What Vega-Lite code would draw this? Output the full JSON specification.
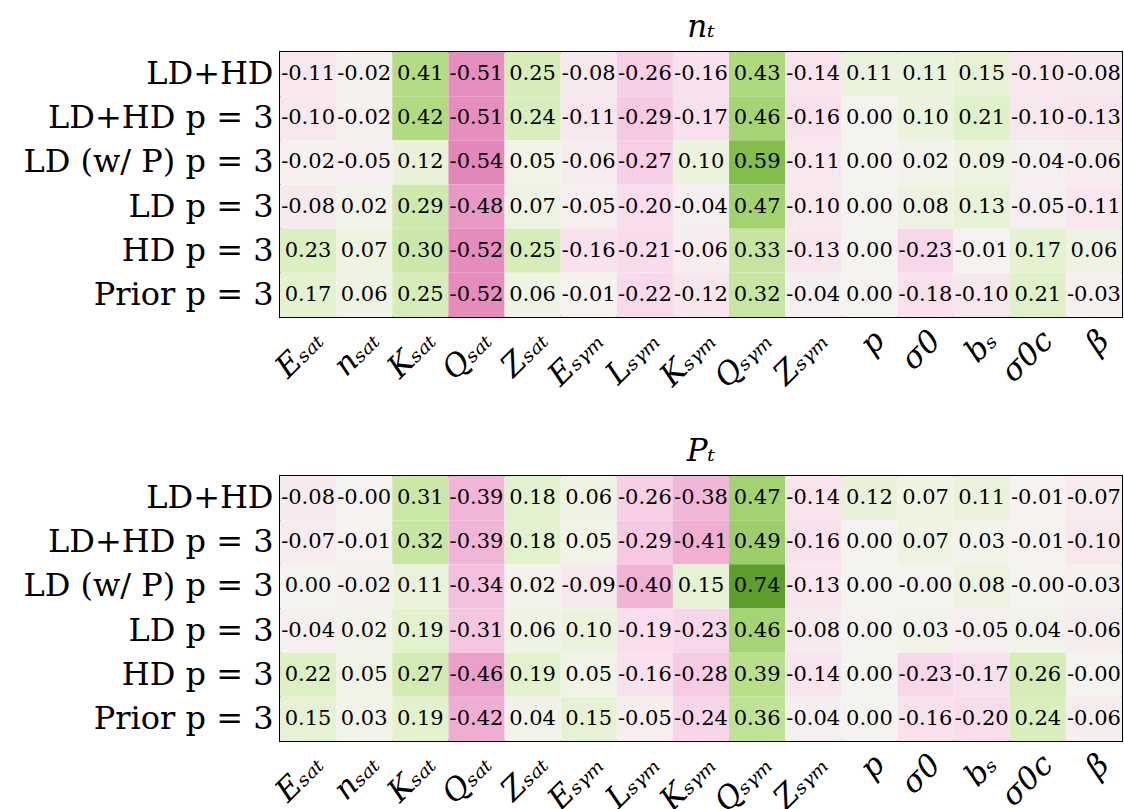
{
  "background": "white",
  "padding": {"left": 21, "top": 11, "right": 5, "bottom": 0},
  "spacing": 40,
  "config": {
    "view": {"stroke": "black", "strokeWidth": 2},
    "font": "DejaVu Serif",
    "axis": {"ticks": false, "domain": false, "grid": false}
  },
  "vconcat": [
    {
      "width": 842, "height": 265,
      "title": {"text": "n\u209c", "fontSize": 31, "font": "DejaVu Serif", "fontStyle": "italic", "fontWeight": "normal", "offset": 8},
      "data": {"values": [
      {"r":"LD+HD","c":"Esat","v":-0.11,"t":"-0.11"},{"r":"LD+HD","c":"nsat","v":-0.02,"t":"-0.02"},{"r":"LD+HD","c":"Ksat","v":0.41,"t":"0.41"},{"r":"LD+HD","c":"Qsat","v":-0.51,"t":"-0.51"},{"r":"LD+HD","c":"Zsat","v":0.25,"t":"0.25"},{"r":"LD+HD","c":"Esym","v":-0.08,"t":"-0.08"},{"r":"LD+HD","c":"Lsym","v":-0.26,"t":"-0.26"},{"r":"LD+HD","c":"Ksym","v":-0.16,"t":"-0.16"},{"r":"LD+HD","c":"Qsym","v":0.43,"t":"0.43"},{"r":"LD+HD","c":"Zsym","v":-0.14,"t":"-0.14"},{"r":"LD+HD","c":"p","v":0.11,"t":"0.11"},{"r":"LD+HD","c":"s0","v":0.11,"t":"0.11"},{"r":"LD+HD","c":"bs","v":0.15,"t":"0.15"},{"r":"LD+HD","c":"s0c","v":-0.10,"t":"-0.10"},{"r":"LD+HD","c":"beta","v":-0.08,"t":"-0.08"},
      {"r":"LD+HD p = 3","c":"Esat","v":-0.10,"t":"-0.10"},{"r":"LD+HD p = 3","c":"nsat","v":-0.02,"t":"-0.02"},{"r":"LD+HD p = 3","c":"Ksat","v":0.42,"t":"0.42"},{"r":"LD+HD p = 3","c":"Qsat","v":-0.51,"t":"-0.51"},{"r":"LD+HD p = 3","c":"Zsat","v":0.24,"t":"0.24"},{"r":"LD+HD p = 3","c":"Esym","v":-0.11,"t":"-0.11"},{"r":"LD+HD p = 3","c":"Lsym","v":-0.29,"t":"-0.29"},{"r":"LD+HD p = 3","c":"Ksym","v":-0.17,"t":"-0.17"},{"r":"LD+HD p = 3","c":"Qsym","v":0.46,"t":"0.46"},{"r":"LD+HD p = 3","c":"Zsym","v":-0.16,"t":"-0.16"},{"r":"LD+HD p = 3","c":"p","v":0.00,"t":"0.00"},{"r":"LD+HD p = 3","c":"s0","v":0.10,"t":"0.10"},{"r":"LD+HD p = 3","c":"bs","v":0.21,"t":"0.21"},{"r":"LD+HD p = 3","c":"s0c","v":-0.10,"t":"-0.10"},{"r":"LD+HD p = 3","c":"beta","v":-0.13,"t":"-0.13"},
      {"r":"LD (w/ P) p = 3","c":"Esat","v":-0.02,"t":"-0.02"},{"r":"LD (w/ P) p = 3","c":"nsat","v":-0.05,"t":"-0.05"},{"r":"LD (w/ P) p = 3","c":"Ksat","v":0.12,"t":"0.12"},{"r":"LD (w/ P) p = 3","c":"Qsat","v":-0.54,"t":"-0.54"},{"r":"LD (w/ P) p = 3","c":"Zsat","v":0.05,"t":"0.05"},{"r":"LD (w/ P) p = 3","c":"Esym","v":-0.06,"t":"-0.06"},{"r":"LD (w/ P) p = 3","c":"Lsym","v":-0.27,"t":"-0.27"},{"r":"LD (w/ P) p = 3","c":"Ksym","v":0.10,"t":"0.10"},{"r":"LD (w/ P) p = 3","c":"Qsym","v":0.59,"t":"0.59"},{"r":"LD (w/ P) p = 3","c":"Zsym","v":-0.11,"t":"-0.11"},{"r":"LD (w/ P) p = 3","c":"p","v":0.00,"t":"0.00"},{"r":"LD (w/ P) p = 3","c":"s0","v":0.02,"t":"0.02"},{"r":"LD (w/ P) p = 3","c":"bs","v":0.09,"t":"0.09"},{"r":"LD (w/ P) p = 3","c":"s0c","v":-0.04,"t":"-0.04"},{"r":"LD (w/ P) p = 3","c":"beta","v":-0.06,"t":"-0.06"},
      {"r":"LD p = 3","c":"Esat","v":-0.08,"t":"-0.08"},{"r":"LD p = 3","c":"nsat","v":0.02,"t":"0.02"},{"r":"LD p = 3","c":"Ksat","v":0.29,"t":"0.29"},{"r":"LD p = 3","c":"Qsat","v":-0.48,"t":"-0.48"},{"r":"LD p = 3","c":"Zsat","v":0.07,"t":"0.07"},{"r":"LD p = 3","c":"Esym","v":-0.05,"t":"-0.05"},{"r":"LD p = 3","c":"Lsym","v":-0.20,"t":"-0.20"},{"r":"LD p = 3","c":"Ksym","v":-0.04,"t":"-0.04"},{"r":"LD p = 3","c":"Qsym","v":0.47,"t":"0.47"},{"r":"LD p = 3","c":"Zsym","v":-0.10,"t":"-0.10"},{"r":"LD p = 3","c":"p","v":0.00,"t":"0.00"},{"r":"LD p = 3","c":"s0","v":0.08,"t":"0.08"},{"r":"LD p = 3","c":"bs","v":0.13,"t":"0.13"},{"r":"LD p = 3","c":"s0c","v":-0.05,"t":"-0.05"},{"r":"LD p = 3","c":"beta","v":-0.11,"t":"-0.11"},
      {"r":"HD p = 3","c":"Esat","v":0.23,"t":"0.23"},{"r":"HD p = 3","c":"nsat","v":0.07,"t":"0.07"},{"r":"HD p = 3","c":"Ksat","v":0.30,"t":"0.30"},{"r":"HD p = 3","c":"Qsat","v":-0.52,"t":"-0.52"},{"r":"HD p = 3","c":"Zsat","v":0.25,"t":"0.25"},{"r":"HD p = 3","c":"Esym","v":-0.16,"t":"-0.16"},{"r":"HD p = 3","c":"Lsym","v":-0.21,"t":"-0.21"},{"r":"HD p = 3","c":"Ksym","v":-0.06,"t":"-0.06"},{"r":"HD p = 3","c":"Qsym","v":0.33,"t":"0.33"},{"r":"HD p = 3","c":"Zsym","v":-0.13,"t":"-0.13"},{"r":"HD p = 3","c":"p","v":0.00,"t":"0.00"},{"r":"HD p = 3","c":"s0","v":-0.23,"t":"-0.23"},{"r":"HD p = 3","c":"bs","v":-0.01,"t":"-0.01"},{"r":"HD p = 3","c":"s0c","v":0.17,"t":"0.17"},{"r":"HD p = 3","c":"beta","v":0.06,"t":"0.06"},
      {"r":"Prior p = 3","c":"Esat","v":0.17,"t":"0.17"},{"r":"Prior p = 3","c":"nsat","v":0.06,"t":"0.06"},{"r":"Prior p = 3","c":"Ksat","v":0.25,"t":"0.25"},{"r":"Prior p = 3","c":"Qsat","v":-0.52,"t":"-0.52"},{"r":"Prior p = 3","c":"Zsat","v":0.06,"t":"0.06"},{"r":"Prior p = 3","c":"Esym","v":-0.01,"t":"-0.01"},{"r":"Prior p = 3","c":"Lsym","v":-0.22,"t":"-0.22"},{"r":"Prior p = 3","c":"Ksym","v":-0.12,"t":"-0.12"},{"r":"Prior p = 3","c":"Qsym","v":0.32,"t":"0.32"},{"r":"Prior p = 3","c":"Zsym","v":-0.04,"t":"-0.04"},{"r":"Prior p = 3","c":"p","v":0.00,"t":"0.00"},{"r":"Prior p = 3","c":"s0","v":-0.18,"t":"-0.18"},{"r":"Prior p = 3","c":"bs","v":-0.10,"t":"-0.10"},{"r":"Prior p = 3","c":"s0c","v":0.21,"t":"0.21"},{"r":"Prior p = 3","c":"beta","v":-0.03,"t":"-0.03"}
      ]},
      "encoding": {
        "x": {"field": "c", "type": "nominal", "title": null, "sort": ["Esat","nsat","Ksat","Qsat","Zsat","Esym","Lsym","Ksym","Qsym","Zsym","p","s0","bs","s0c","beta"], "scale": {"paddingInner": 0, "paddingOuter": 0},
              "axis": {"labelExpr": "{'Esat':'E\u209b\u2090\u209c','nsat':'n\u209b\u2090\u209c','Ksat':'K\u209b\u2090\u209c','Qsat':'Q\u209b\u2090\u209c','Zsat':'Z\u209b\u2090\u209c','Esym':'E\u209b\u1d67\u2098','Lsym':'L\u209b\u1d67\u2098','Ksym':'K\u209b\u1d67\u2098','Qsym':'Q\u209b\u1d67\u2098','Zsym':'Z\u209b\u1d67\u2098','p':'p','s0':'\u03c30','bs':'b\u209b','s0c':'\u03c30c','beta':'\u03b2'}[datum.value]", "labelAngle": -45, "labelAlign": "right", "labelBaseline": "top", "labelFontSize": 31, "labelFont": "DejaVu Serif", "labelFontStyle": "italic", "labelPadding": 8, "labelColor": "black", "labelDx": 18, "labelDy": 18, "labelLimit": 0}},
        "y": {"field": "r", "type": "nominal", "title": null, "sort": ["LD+HD","LD+HD p = 3","LD (w/ P) p = 3","LD p = 3","HD p = 3","Prior p = 3"], "scale": {"paddingInner": 0, "paddingOuter": 0},
              "axis": {"labelFontSize": 32, "labelFont": "DejaVu Serif", "labelPadding": 7, "labelColor": "black", "labelLimit": 0}}
      },
      "layer": [
        {"mark": {"type": "rect"}, "encoding": {"color": {"field": "v", "type": "quantitative", "scale": {"scheme": "pinkyellowgreen", "domain": [-1, 1]}, "legend": null}}},
        {"mark": {"type": "text", "fontSize": 21, "font": "DejaVu Serif", "color": "black"}, "encoding": {"text": {"field": "t"}}}
      ]
    },
    {
      "width": 842, "height": 265,
      "title": {"text": "P\u209c", "fontSize": 31, "font": "DejaVu Serif", "fontStyle": "italic", "fontWeight": "normal", "offset": 8},
      "data": {"values": [
      {"r":"LD+HD","c":"Esat","v":-0.08,"t":"-0.08"},{"r":"LD+HD","c":"nsat","v":-0.001,"t":"-0.00"},{"r":"LD+HD","c":"Ksat","v":0.31,"t":"0.31"},{"r":"LD+HD","c":"Qsat","v":-0.39,"t":"-0.39"},{"r":"LD+HD","c":"Zsat","v":0.18,"t":"0.18"},{"r":"LD+HD","c":"Esym","v":0.06,"t":"0.06"},{"r":"LD+HD","c":"Lsym","v":-0.26,"t":"-0.26"},{"r":"LD+HD","c":"Ksym","v":-0.38,"t":"-0.38"},{"r":"LD+HD","c":"Qsym","v":0.47,"t":"0.47"},{"r":"LD+HD","c":"Zsym","v":-0.14,"t":"-0.14"},{"r":"LD+HD","c":"p","v":0.12,"t":"0.12"},{"r":"LD+HD","c":"s0","v":0.07,"t":"0.07"},{"r":"LD+HD","c":"bs","v":0.11,"t":"0.11"},{"r":"LD+HD","c":"s0c","v":-0.01,"t":"-0.01"},{"r":"LD+HD","c":"beta","v":-0.07,"t":"-0.07"},
      {"r":"LD+HD p = 3","c":"Esat","v":-0.07,"t":"-0.07"},{"r":"LD+HD p = 3","c":"nsat","v":-0.01,"t":"-0.01"},{"r":"LD+HD p = 3","c":"Ksat","v":0.32,"t":"0.32"},{"r":"LD+HD p = 3","c":"Qsat","v":-0.39,"t":"-0.39"},{"r":"LD+HD p = 3","c":"Zsat","v":0.18,"t":"0.18"},{"r":"LD+HD p = 3","c":"Esym","v":0.05,"t":"0.05"},{"r":"LD+HD p = 3","c":"Lsym","v":-0.29,"t":"-0.29"},{"r":"LD+HD p = 3","c":"Ksym","v":-0.41,"t":"-0.41"},{"r":"LD+HD p = 3","c":"Qsym","v":0.49,"t":"0.49"},{"r":"LD+HD p = 3","c":"Zsym","v":-0.16,"t":"-0.16"},{"r":"LD+HD p = 3","c":"p","v":0.00,"t":"0.00"},{"r":"LD+HD p = 3","c":"s0","v":0.07,"t":"0.07"},{"r":"LD+HD p = 3","c":"bs","v":0.03,"t":"0.03"},{"r":"LD+HD p = 3","c":"s0c","v":-0.01,"t":"-0.01"},{"r":"LD+HD p = 3","c":"beta","v":-0.10,"t":"-0.10"},
      {"r":"LD (w/ P) p = 3","c":"Esat","v":0.00,"t":"0.00"},{"r":"LD (w/ P) p = 3","c":"nsat","v":-0.02,"t":"-0.02"},{"r":"LD (w/ P) p = 3","c":"Ksat","v":0.11,"t":"0.11"},{"r":"LD (w/ P) p = 3","c":"Qsat","v":-0.34,"t":"-0.34"},{"r":"LD (w/ P) p = 3","c":"Zsat","v":0.02,"t":"0.02"},{"r":"LD (w/ P) p = 3","c":"Esym","v":-0.09,"t":"-0.09"},{"r":"LD (w/ P) p = 3","c":"Lsym","v":-0.40,"t":"-0.40"},{"r":"LD (w/ P) p = 3","c":"Ksym","v":0.15,"t":"0.15"},{"r":"LD (w/ P) p = 3","c":"Qsym","v":0.74,"t":"0.74"},{"r":"LD (w/ P) p = 3","c":"Zsym","v":-0.13,"t":"-0.13"},{"r":"LD (w/ P) p = 3","c":"p","v":0.00,"t":"0.00"},{"r":"LD (w/ P) p = 3","c":"s0","v":-0.001,"t":"-0.00"},{"r":"LD (w/ P) p = 3","c":"bs","v":0.08,"t":"0.08"},{"r":"LD (w/ P) p = 3","c":"s0c","v":-0.001,"t":"-0.00"},{"r":"LD (w/ P) p = 3","c":"beta","v":-0.03,"t":"-0.03"},
      {"r":"LD p = 3","c":"Esat","v":-0.04,"t":"-0.04"},{"r":"LD p = 3","c":"nsat","v":0.02,"t":"0.02"},{"r":"LD p = 3","c":"Ksat","v":0.19,"t":"0.19"},{"r":"LD p = 3","c":"Qsat","v":-0.31,"t":"-0.31"},{"r":"LD p = 3","c":"Zsat","v":0.06,"t":"0.06"},{"r":"LD p = 3","c":"Esym","v":0.10,"t":"0.10"},{"r":"LD p = 3","c":"Lsym","v":-0.19,"t":"-0.19"},{"r":"LD p = 3","c":"Ksym","v":-0.23,"t":"-0.23"},{"r":"LD p = 3","c":"Qsym","v":0.46,"t":"0.46"},{"r":"LD p = 3","c":"Zsym","v":-0.08,"t":"-0.08"},{"r":"LD p = 3","c":"p","v":0.00,"t":"0.00"},{"r":"LD p = 3","c":"s0","v":0.03,"t":"0.03"},{"r":"LD p = 3","c":"bs","v":-0.05,"t":"-0.05"},{"r":"LD p = 3","c":"s0c","v":0.04,"t":"0.04"},{"r":"LD p = 3","c":"beta","v":-0.06,"t":"-0.06"},
      {"r":"HD p = 3","c":"Esat","v":0.22,"t":"0.22"},{"r":"HD p = 3","c":"nsat","v":0.05,"t":"0.05"},{"r":"HD p = 3","c":"Ksat","v":0.27,"t":"0.27"},{"r":"HD p = 3","c":"Qsat","v":-0.46,"t":"-0.46"},{"r":"HD p = 3","c":"Zsat","v":0.19,"t":"0.19"},{"r":"HD p = 3","c":"Esym","v":0.05,"t":"0.05"},{"r":"HD p = 3","c":"Lsym","v":-0.16,"t":"-0.16"},{"r":"HD p = 3","c":"Ksym","v":-0.28,"t":"-0.28"},{"r":"HD p = 3","c":"Qsym","v":0.39,"t":"0.39"},{"r":"HD p = 3","c":"Zsym","v":-0.14,"t":"-0.14"},{"r":"HD p = 3","c":"p","v":0.00,"t":"0.00"},{"r":"HD p = 3","c":"s0","v":-0.23,"t":"-0.23"},{"r":"HD p = 3","c":"bs","v":-0.17,"t":"-0.17"},{"r":"HD p = 3","c":"s0c","v":0.26,"t":"0.26"},{"r":"HD p = 3","c":"beta","v":-0.001,"t":"-0.00"},
      {"r":"Prior p = 3","c":"Esat","v":0.15,"t":"0.15"},{"r":"Prior p = 3","c":"nsat","v":0.03,"t":"0.03"},{"r":"Prior p = 3","c":"Ksat","v":0.19,"t":"0.19"},{"r":"Prior p = 3","c":"Qsat","v":-0.42,"t":"-0.42"},{"r":"Prior p = 3","c":"Zsat","v":0.04,"t":"0.04"},{"r":"Prior p = 3","c":"Esym","v":0.15,"t":"0.15"},{"r":"Prior p = 3","c":"Lsym","v":-0.05,"t":"-0.05"},{"r":"Prior p = 3","c":"Ksym","v":-0.24,"t":"-0.24"},{"r":"Prior p = 3","c":"Qsym","v":0.36,"t":"0.36"},{"r":"Prior p = 3","c":"Zsym","v":-0.04,"t":"-0.04"},{"r":"Prior p = 3","c":"p","v":0.00,"t":"0.00"},{"r":"Prior p = 3","c":"s0","v":-0.16,"t":"-0.16"},{"r":"Prior p = 3","c":"bs","v":-0.20,"t":"-0.20"},{"r":"Prior p = 3","c":"s0c","v":0.24,"t":"0.24"},{"r":"Prior p = 3","c":"beta","v":-0.06,"t":"-0.06"}
      ]},
      "encoding": {
        "x": {"field": "c", "type": "nominal", "title": null, "sort": ["Esat","nsat","Ksat","Qsat","Zsat","Esym","Lsym","Ksym","Qsym","Zsym","p","s0","bs","s0c","beta"], "scale": {"paddingInner": 0, "paddingOuter": 0},
              "axis": {"labelExpr": "{'Esat':'E\u209b\u2090\u209c','nsat':'n\u209b\u2090\u209c','Ksat':'K\u209b\u2090\u209c','Qsat':'Q\u209b\u2090\u209c','Zsat':'Z\u209b\u2090\u209c','Esym':'E\u209b\u1d67\u2098','Lsym':'L\u209b\u1d67\u2098','Ksym':'K\u209b\u1d67\u2098','Qsym':'Q\u209b\u1d67\u2098','Zsym':'Z\u209b\u1d67\u2098','p':'p','s0':'\u03c30','bs':'b\u209b','s0c':'\u03c30c','beta':'\u03b2'}[datum.value]", "labelAngle": -45, "labelAlign": "right", "labelBaseline": "top", "labelFontSize": 31, "labelFont": "DejaVu Serif", "labelFontStyle": "italic", "labelPadding": 8, "labelColor": "black", "labelDx": 18, "labelDy": 18, "labelLimit": 0}},
        "y": {"field": "r", "type": "nominal", "title": null, "sort": ["LD+HD","LD+HD p = 3","LD (w/ P) p = 3","LD p = 3","HD p = 3","Prior p = 3"], "scale": {"paddingInner": 0, "paddingOuter": 0},
              "axis": {"labelFontSize": 32, "labelFont": "DejaVu Serif", "labelPadding": 7, "labelColor": "black", "labelLimit": 0}}
      },
      "layer": [
        {"mark": {"type": "rect"}, "encoding": {"color": {"field": "v", "type": "quantitative", "scale": {"scheme": "pinkyellowgreen", "domain": [-1, 1]}, "legend": null}}},
        {"mark": {"type": "text", "fontSize": 21, "font": "DejaVu Serif", "color": "black"}, "encoding": {"text": {"field": "t"}}}
      ]
    }
  ]
}
